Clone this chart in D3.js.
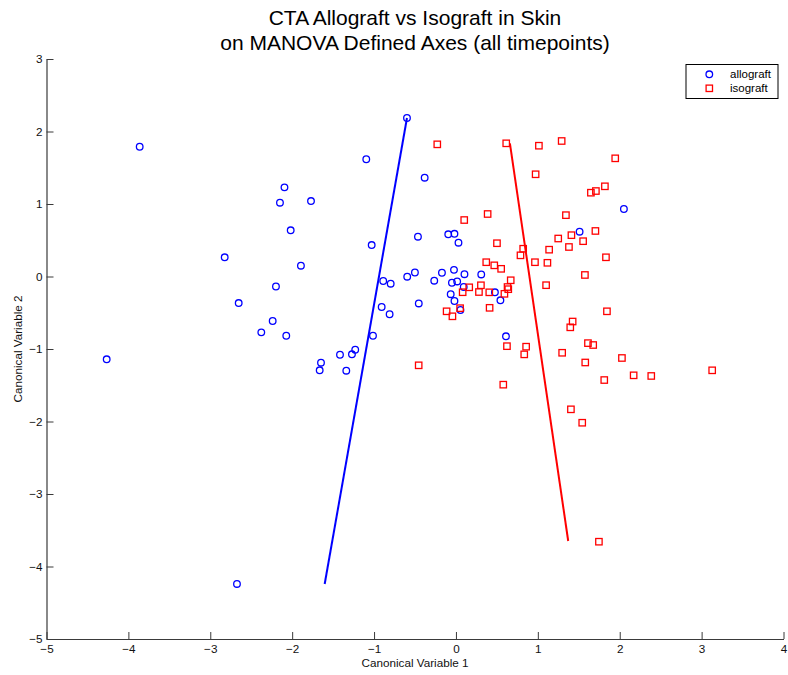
<!DOCTYPE html>
<html>
<head>
<meta charset="utf-8">
<script src="https://cdn.jsdelivr.net/npm/d3@7"></script>
<style>
  html, body { margin: 0; padding: 0; background: #fff; }
  svg { display: block; font-family: "Liberation Sans", Arial, Helvetica, sans-serif; }
</style>
</head>
<body>
<svg id="chart" width="788" height="675"></svg>
<script>
// Canonical scores, allograft group (CV1, CV2)
const allograftX = [-4.265, -3.862, -2.674, -2.824, -2.653, -2.238, -2.377, -2.072, -2.198, -2.018,
  -2.149, -2.094, -1.893, -1.770, -0.598, -1.095, -0.382, -0.464, -1.029, -0.094,
  -0.018, 0.031, -0.888, -0.797, -0.595, -0.501, -0.265, -0.171, -0.024, 0.104,
  0.309, -0.049, 0.015, 0.095, -0.064, -0.018, 0.055, 0.476, 0.543, -0.454,
  -0.907, -0.810, -1.013, 0.611, -1.416, -1.270, -1.230, -1.648, -1.664, -1.339,
  2.051, 1.510];
const allograftY = [-1.142, 1.790, -4.241, 0.265, -0.366, -0.614, -0.770, -0.817, -0.138, 0.637,
  1.018, 1.230, 0.149, 1.041, 2.186, 1.617, 1.363, 0.549, 0.434, 0.582,
  0.589, 0.466, -0.062, -0.099, -0.003, 0.055, -0.058, 0.052, 0.092, 0.032,
  0.028, -0.086, -0.068, -0.145, -0.244, -0.338, -0.462, -0.218, -0.328, -0.372,
  -0.421, -0.521, -0.817, -0.825, -1.079, -1.073, -1.010, -1.189, -1.294, -1.299,
  0.931, 0.618];

// Canonical scores, isograft group (CV1, CV2)
const isograftX = [-0.228, 0.614, 1.013, 1.291, 1.945, 0.973, 1.648, 1.709, 1.819, 0.101,
  0.387, 1.343, 1.703, 1.410, 1.249, 1.553, 1.380, 1.138, 0.501, 0.821,
  0.788, 0.965, 1.117, 0.370, 0.468, 0.552, 1.832, 1.575, 0.669, 0.630,
  0.639, 0.592, 0.407, 0.305, 0.281, 0.162, 0.082, 1.101, 0.051, -0.114,
  -0.043, 0.411, 1.844, 1.425, 1.396, 1.612, 1.676, 0.623, 0.857, 0.834,
  1.297, 2.027, 1.579, 1.811, 2.170, 2.385, 3.129, 1.404, 1.542, 1.746,
  -0.455, 0.578];
const isograftY = [1.823, 1.837, 1.804, 1.869, 1.630, 1.410, 1.156, 1.179, 1.244, 0.779,
  0.862, 0.846, 0.628, 0.570, 0.524, 0.487, 0.407, 0.370, 0.459, 0.383,
  0.292, 0.197, 0.189, 0.197, 0.154, 0.106, 0.265, 0.021, -0.052, -0.145,
  -0.175, -0.239, -0.218, -0.121, -0.214, -0.149, -0.217, -0.120, -0.437, -0.480,
  -0.549, -0.432, -0.480, -0.621, -0.701, -0.919, -0.945, -0.961, -0.968, -1.074,
  -1.052, -1.124, -1.186, -1.428, -1.363, -1.372, -1.294, -1.832, -2.017, -3.658,
  -1.225, -1.492];

// Group axis segments: [x, y] end points
const allograftAxis = [[-0.598, 2.186], [-1.603, -4.241]];
const isograftAxis = [[0.659, 1.837], [1.371, -3.648]];

// Axis ticks and labels
const xTicks = [-5, -4, -3, -2, -1, 0, 1, 2, 3, 4];
const yTicks = [-5, -4, -3, -2, -1, 0, 1, 2, 3];
const titleLines = ["CTA Allograft vs Isograft in Skin", "on MANOVA Defined Axes (all timepoints)"];
const xLabel = "Canonical Variable 1";
const yLabel = "Canonical Variable 2";
const seriesNames = ["allograft", "isograft"];

const svg = d3.select("#chart");
const plot = { left: 46.5, right: 783.5, top: 59, bottom: 639 };

const x = d3.scaleLinear().domain([-5, 4]).range([plot.left, plot.right]);
const y = d3.scaleLinear().domain([-5, 3]).range([plot.bottom, plot.top]);

const fmt = d => d < 0 ? "\u2212" + Math.abs(d) : String(d);
const axisColor = "#3a3a3a";

// Axes with inward ticks
const gx = svg.append("g")
  .attr("transform", `translate(0,${plot.bottom})`)
  .call(d3.axisBottom(x).tickValues(xTicks).tickFormat(fmt)
    .tickSizeInner(-7).tickSizeOuter(0).tickPadding(6));
const gy = svg.append("g")
  .attr("transform", `translate(${plot.left},0)`)
  .call(d3.axisLeft(y).tickValues(yTicks).tickFormat(fmt)
    .tickSizeInner(-7).tickSizeOuter(0).tickPadding(4));

[gx, gy].forEach(g => {
  g.select(".domain").attr("stroke", axisColor).attr("stroke-width", 1.2);
  g.selectAll(".tick line").attr("stroke", axisColor).attr("stroke-width", 1);
  g.selectAll(".tick text").attr("fill", "#111").style("font-size", "11.7px")
    .style("font-family", "'Liberation Sans', Arial, sans-serif");
});

// Markers
const circ = svg.append("g");
circ.selectAll("circle").data(allograftX.map((v, i) => [v, allograftY[i]]))
  .join("circle")
  .attr("cx", d => x(d[0])).attr("cy", d => y(d[1])).attr("r", 3.3)
  .attr("fill", "none").attr("stroke", "#0000ff").attr("stroke-width", 1.3);

const side = 6.4;
const sq = svg.append("g");
sq.selectAll("rect").data(isograftX.map((v, i) => [v, isograftY[i]]))
  .join("rect")
  .attr("x", d => x(d[0]) - side / 2).attr("y", d => y(d[1]) - side / 2)
  .attr("width", side).attr("height", side)
  .attr("fill", "none").attr("stroke", "#ff0000").attr("stroke-width", 1.3);

// Group axis lines
const line = d3.line().x(d => x(d[0])).y(d => y(d[1]));
svg.append("path").attr("d", line(allograftAxis))
  .attr("fill", "none").attr("stroke", "#0000ff").attr("stroke-width", 2);
svg.append("path").attr("d", line(isograftAxis))
  .attr("fill", "none").attr("stroke", "#ff0000").attr("stroke-width", 2);

// Title
const cx = (plot.left + plot.right) / 2;
svg.append("text").attr("x", cx).attr("y", 25).attr("text-anchor", "middle")
  .style("font-size", "21px").attr("fill", "#000").text(titleLines[0]);
svg.append("text").attr("x", cx).attr("y", 50).attr("text-anchor", "middle")
  .style("font-size", "21px").attr("fill", "#000").text(titleLines[1]);

// Axis labels
svg.append("text").attr("x", cx).attr("y", 667).attr("text-anchor", "middle")
  .style("font-size", "11.7px").attr("fill", "#111").text(xLabel);
svg.append("text").attr("transform", `translate(22,${(plot.top + plot.bottom) / 2}) rotate(-90)`)
  .attr("text-anchor", "middle").style("font-size", "11.7px").attr("fill", "#111").text(yLabel);

// Legend
const lg = svg.append("g");
lg.append("rect").attr("x", 686).attr("y", 64.5).attr("width", 92).attr("height", 34)
  .attr("fill", "#fff").attr("stroke", "#000").attr("stroke-width", 1);
lg.append("circle").attr("cx", 709.3).attr("cy", 74.3).attr("r", 3.3)
  .attr("fill", "none").attr("stroke", "#0000ff").attr("stroke-width", 1.3);
lg.append("rect").attr("x", 709.3 - side / 2).attr("y", 88.3 - side / 2)
  .attr("width", side).attr("height", side)
  .attr("fill", "none").attr("stroke", "#ff0000").attr("stroke-width", 1.3);
lg.selectAll("text.lab").data(seriesNames).join("text").attr("class", "lab")
  .attr("x", 730).attr("y", (d, i) => 78.3 + i * 14)
  .style("font-size", "11.5px").attr("fill", "#000").text(d => d);
</script>
</body>
</html>
